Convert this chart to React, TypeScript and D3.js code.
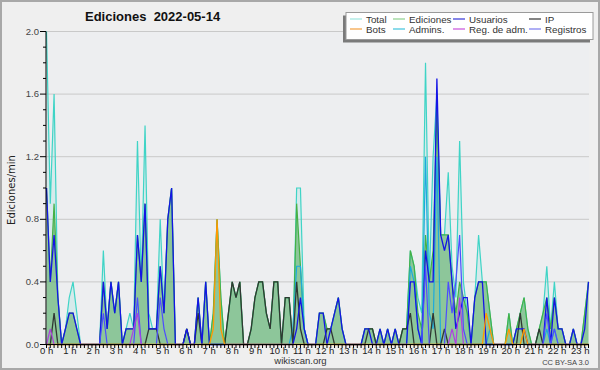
import React from "react";
import * as d3 from "d3";

const HOUR_LABELS = [
  "0 h", "1 h", "2 h", "3 h", "4 h", "5 h", "6 h", "7 h", "8 h", "9 h", "10 h", "11 h",
  "12 h", "13 h", "14 h", "15 h", "16 h", "17 h", "18 h", "19 h", "20 h", "21 h", "22 h", "23 h",
];
const Y_TICKS = [0, 0.4, 0.8, 1.2, 1.6, 2.0];
const Y_TICK_LABELS = ["0.0", "0.4", "0.8", "1.2", "1.6", "2.0"];

// one value per 10 minutes, 6 per hour
const TOTAL = [
  2.0, 0.9, 1.6, 0.3, 0, 0.1,
  0.3, 0.4, 0.2, 0, 0, 0,
  0, 0, 0, 0.6, 0.1, 0.4,
  0.2, 0.4, 0, 0.1, 0.2, 0.1,
  1.3, 0.4, 1.4, 0.2, 0.1, 0.1,
  0.8, 0.2, 0.8, 1.0, 0, 0,
  0, 0.1, 0, 0, 0.3, 0,
  0.4, 0, 0.2, 0.8, 0.3, 0,
  0.2, 0.4, 0.3, 0.4, 0, 0,
  0.1, 0.3, 0.4, 0.4, 0.2, 0.1,
  0.4, 0.4, 0, 0.3, 0.3, 0,
  1.0, 1.0, 0.1, 0, 0, 0,
  0.2, 0.2, 0.1, 0.1, 0.2, 0.3,
  0.1, 0, 0, 0, 0, 0,
  0.1, 0.1, 0.1, 0, 0.1, 0,
  0.1, 0, 0.1, 0, 0.1, 0.1,
  0.6, 0.5, 0.3, 0.2, 1.8, 0.4,
  1.2, 1.6, 0.7, 0.7, 1.1, 0.5,
  0.3, 1.3, 0.4, 0.2, 0, 0.3,
  0.7, 0.4, 0.4, 0.2, 0, 0,
  0, 0, 0.2, 0, 0.1, 0.2,
  0.3, 0.1, 0, 0, 0.1, 0.2,
  0.5, 0.1, 0.4, 0.1, 0.1, 0,
  0, 0.1, 0, 0, 0.2, 0.4,
];

const EDICIONES = [
  1.0, 0.4, 0.9, 0.3, 0, 0.1,
  0.2, 0.2, 0.1, 0, 0, 0,
  0, 0, 0, 0.4, 0.1, 0.4,
  0.2, 0.4, 0, 0.1, 0.1, 0.1,
  0.7, 0.4, 0.9, 0.1, 0.1, 0.1,
  0.5, 0.2, 0.8, 1.0, 0, 0,
  0, 0.1, 0, 0, 0.3, 0,
  0.4, 0, 0.2, 0.8, 0.3, 0,
  0.2, 0.4, 0.3, 0.4, 0, 0,
  0.1, 0.3, 0.4, 0.4, 0.2, 0.1,
  0.4, 0.4, 0, 0.3, 0.3, 0,
  0.9, 0.5, 0.1, 0, 0, 0,
  0.2, 0.2, 0.1, 0.1, 0.2, 0.3,
  0.1, 0, 0, 0, 0, 0,
  0.1, 0.1, 0.1, 0, 0.1, 0,
  0.1, 0, 0.1, 0, 0.1, 0.1,
  0.6, 0.5, 0.2, 0.1, 0.7, 0.4,
  0.6, 1.5, 0.7, 0.7, 0.7, 0.4,
  0.2, 0.4, 0.3, 0.2, 0, 0.3,
  0.4, 0.4, 0.4, 0.2, 0, 0,
  0, 0, 0.2, 0, 0.1, 0.2,
  0.3, 0.1, 0, 0, 0.1, 0.2,
  0.3, 0.1, 0.3, 0.1, 0.1, 0,
  0, 0.1, 0, 0, 0.2, 0.4,
];

const USUARIOS = [
  1.0, 0.4, 0.7, 0.3, 0, 0.1,
  0.2, 0.2, 0.1, 0, 0, 0,
  0, 0, 0, 0.4, 0.1, 0.4,
  0.2, 0.4, 0, 0.1, 0.1, 0.1,
  0.7, 0.4, 0.9, 0.1, 0.1, 0.1,
  0.5, 0.2, 0.8, 1.0, 0, 0,
  0, 0.1, 0, 0, 0.3, 0,
  0.4, 0, 0, 0, 0, 0,
  0, 0, 0, 0, 0, 0,
  0, 0, 0, 0, 0, 0,
  0, 0, 0, 0, 0, 0,
  0.1, 0.3, 0.1, 0, 0, 0,
  0.2, 0.2, 0, 0.1, 0.2, 0.3,
  0.1, 0, 0, 0, 0, 0,
  0.1, 0.1, 0, 0, 0.1, 0,
  0.1, 0, 0.1, 0, 0, 0,
  0.4, 0.4, 0.1, 0, 0.6, 0.4,
  0.4, 1.7, 0.7, 0.6, 0.7, 0.4,
  0.1, 0.2, 0.3, 0.3, 0, 0.3,
  0.4, 0.4, 0, 0, 0, 0,
  0, 0, 0, 0, 0.1, 0.1,
  0.1, 0, 0, 0, 0, 0,
  0.3, 0, 0.3, 0.1, 0.1, 0,
  0, 0.1, 0, 0, 0.1, 0.4,
];

const IP = [
  0, 0, 0.2, 0, 0, 0,
  0, 0, 0, 0, 0, 0,
  0, 0, 0, 0, 0, 0,
  0, 0, 0, 0, 0, 0,
  0, 0, 0, 0.1, 0.1, 0.1,
  0, 0, 0, 0, 0, 0,
  0, 0.1, 0, 0, 0.2, 0,
  0, 0, 0, 0, 0, 0,
  0.2, 0.4, 0.3, 0.4, 0, 0,
  0.1, 0.3, 0.4, 0.4, 0.2, 0.1,
  0.4, 0.4, 0, 0.3, 0.3, 0,
  0.4, 0.1, 0, 0, 0, 0,
  0, 0, 0.1, 0.1, 0, 0,
  0, 0, 0, 0, 0, 0,
  0, 0.1, 0.1, 0, 0, 0,
  0, 0, 0, 0, 0.1, 0.1,
  0.2, 0, 0, 0, 0, 0,
  0.2, 0, 0, 0.1, 0, 0,
  0, 0, 0, 0, 0, 0,
  0, 0, 0, 0, 0, 0,
  0, 0, 0, 0, 0, 0.2,
  0, 0, 0, 0, 0.1, 0,
  0, 0, 0, 0, 0, 0,
  0, 0, 0, 0, 0, 0,
];

const BOTS = [
  0, 0, 0, 0, 0, 0,
  0, 0, 0, 0, 0, 0,
  0, 0, 0, 0, 0, 0,
  0, 0, 0, 0, 0, 0,
  0, 0, 0, 0, 0, 0,
  0, 0, 0, 0, 0, 0,
  0, 0, 0, 0, 0, 0,
  0, 0, 0.1, 0.8, 0.1, 0,
  0, 0, 0, 0, 0, 0,
  0, 0, 0, 0, 0, 0,
  0, 0, 0, 0, 0, 0,
  0, 0, 0, 0, 0, 0,
  0, 0, 0, 0, 0, 0,
  0, 0, 0, 0, 0, 0,
  0, 0, 0, 0, 0, 0,
  0, 0, 0, 0, 0, 0,
  0, 0, 0, 0, 0, 0,
  0, 0, 0, 0, 0, 0,
  0, 0, 0, 0, 0, 0,
  0, 0, 0.2, 0.1, 0, 0,
  0, 0, 0.1, 0, 0, 0,
  0.1, 0, 0, 0, 0, 0,
  0, 0, 0, 0, 0, 0,
  0, 0, 0, 0, 0, 0,
];

const ADMINS = [
  0, 0, 0, 0, 0, 0,
  0, 0, 0, 0, 0, 0,
  0, 0, 0, 0, 0, 0,
  0, 0, 0, 0, 0, 0,
  0, 0, 0, 0, 0, 0,
  0, 0, 0, 0, 0, 0,
  0, 0, 0, 0, 0, 0,
  0, 0, 0, 0, 0, 0,
  0, 0, 0, 0, 0, 0,
  0, 0, 0, 0, 0, 0,
  0, 0, 0, 0, 0, 0.1,
  0.5, 0.5, 0.1, 0, 0, 0,
  0, 0, 0, 0, 0, 0,
  0, 0, 0, 0, 0, 0,
  0, 0, 0, 0, 0, 0,
  0, 0, 0, 0, 0, 0,
  0.5, 0.4, 0.1, 0, 1.2, 0.2,
  0.1, 1.2, 0, 0, 0, 0,
  0, 0, 0, 0, 0, 0,
  0, 0, 0, 0.1, 0, 0,
  0, 0, 0, 0, 0, 0,
  0, 0, 0, 0, 0, 0,
  0.1, 0, 0.1, 0, 0, 0,
  0, 0, 0, 0, 0, 0,
];

const REG_ADM = [
  0, 0.1, 0, 0, 0, 0,
  0, 0, 0, 0, 0, 0,
  0, 0, 0, 0, 0, 0,
  0, 0, 0, 0, 0, 0.1,
  0.2, 0, 0, 0, 0, 0,
  0, 0, 0, 0, 0, 0,
  0, 0, 0, 0, 0, 0,
  0, 0, 0, 0, 0, 0,
  0, 0, 0, 0, 0, 0,
  0, 0, 0, 0, 0, 0,
  0, 0, 0, 0, 0, 0,
  0, 0, 0, 0, 0, 0,
  0, 0, 0, 0, 0, 0,
  0, 0, 0, 0, 0, 0,
  0, 0, 0, 0, 0, 0,
  0, 0, 0, 0, 0, 0,
  0, 0, 0, 0, 0, 0,
  0, 0, 0, 0, 0, 0.1,
  0, 0.3, 0, 0, 0, 0,
  0, 0, 0, 0, 0, 0,
  0, 0, 0, 0, 0, 0,
  0, 0, 0, 0, 0, 0,
  0, 0, 0, 0, 0, 0,
  0, 0, 0, 0, 0, 0,
];

const REGISTROS = [
  0, 0, 0, 0, 0, 0,
  0, 0, 0, 0, 0, 0,
  0, 0, 0, 0.2, 0, 0,
  0, 0, 0, 0, 0, 0,
  0.3, 0, 0, 0, 0, 0,
  0.3, 0.1, 0, 0, 0, 0,
  0, 0, 0, 0, 0, 0,
  0, 0, 0, 0, 0, 0,
  0, 0, 0, 0, 0, 0,
  0, 0, 0, 0, 0, 0,
  0, 0, 0, 0, 0, 0,
  0, 0, 0, 0, 0, 0,
  0, 0, 0, 0, 0, 0,
  0, 0, 0, 0, 0, 0,
  0, 0, 0, 0, 0, 0,
  0, 0, 0, 0, 0, 0,
  0, 0, 0, 0, 0.5, 0,
  0, 0, 0, 0, 0.4, 0.2,
  0.4, 0.7, 0.1, 0, 0, 0,
  0, 0, 0, 0, 0, 0,
  0, 0, 0, 0, 0, 0,
  0, 0, 0, 0, 0, 0,
  0.2, 0, 0.1, 0, 0, 0,
  0, 0, 0, 0, 0, 0,
];

const LEGEND_NAMES = ["Total", "Ediciones", "Usuarios", "IP", "Bots", "Admins.", "Reg. de adm.", "Registros"];
const LEGEND_COLORS = ["#9fe6e0", "#8ed08e", "#3434d8", "#333333", "#f4a040", "#40c4dc", "#c850dc", "#7a7aee"];

const W = 600;
const H = 370;
const FONT = "'Liberation Sans', Arial, sans-serif";

export default function App() {
  const x = d3.scaleLinear().domain([0, 143]).range([46.5, 588.5]);
  const y = d3.scaleLinear().domain([0, 2]).range([344.5, 31.5]);
  const xl = d3.scaleLinear().domain([0, 24]).range([46.7, 603.5]);

  const line = (arr: number[]) =>
    d3.line<number>().x((_, i) => x(i)).y((d) => y(d))(arr) || "";
  const area = (arr: number[]) =>
    d3.area<number>().x((_, i) => x(i)).y0(y(0)).y1((d) => y(d))(arr) || "";

  const minorY = d3.range(0, 21).map((k) => k / 10);
  const xTicks = d3.range(0, 144);

  const lines: { data: number[]; color: string; w: number }[] = [
    { data: TOTAL, color: "#3fd4c6", w: 1.2 },
    { data: EDICIONES, color: "#45b045", w: 1.2 },
    { data: ADMINS, color: "#1eaadc", w: 1.2 },
    { data: IP, color: "#303833", w: 1.3 },
    { data: USUARIOS, color: "#1414e6", w: 1.3 },
    { data: REGISTROS, color: "#4d4dff", w: 1.2 },
    { data: BOTS, color: "#ff9900", w: 1.3 },
    { data: REG_ADM, color: "#b040e0", w: 1.2 },
  ];

  const legendCols = [350, 393, 453, 529];
  const legendRows = [19, 29];

  return (
    <svg
      width={W}
      height={H}
      style={{ position: "absolute", left: 0, top: 0, display: "block" }}
    >
      <rect x={1} y={1} width={W - 2} height={H - 2} fill="#efefef" stroke="#a8a8a8" strokeWidth={2} />
      <rect x={46} y={31.5} width={543} height={313} fill="#edeef0" />

      {Y_TICKS.filter((t) => t > 0).map((t) => (
        <line key={"g" + t} x1={46} x2={589} y1={y(t)} y2={y(t)} stroke="#c9c9c9" strokeWidth={1} />
      ))}

      <path d={area(TOTAL)} fill="rgba(64,212,200,0.13)" />
      <path d={area(EDICIONES)} fill="rgba(82,168,88,0.55)" />

      {lines.map((s, i) => (
        <path key={"l" + i} d={line(s.data)} fill="none" stroke={s.color} strokeWidth={s.w} strokeLinejoin="miter" />
      ))}

      {/* axes */}
      <line x1={46} x2={46} y1={31.5} y2={345} stroke="#000" strokeWidth={1} />
      <line x1={46} x2={589} y1={344.5} y2={344.5} stroke="#000" strokeWidth={1.2} />
      {minorY.map((t) => (
        <line key={"my" + t} x1={Math.round(t * 10) % 4 === 0 ? 40 : 43} x2={46} y1={y(t)} y2={y(t)} stroke="#000" strokeWidth={1} />
      ))}
      {Y_TICKS.map((t, i) => (
        <text key={"yl" + t} x={39} y={y(t) + 3} fontSize={9.5} fontFamily={FONT} fill="#444" textAnchor="end">
          {Y_TICK_LABELS[i]}
        </text>
      ))}
      {xTicks.map((t) => (
        <line key={"xt" + t} x1={x(t)} x2={x(t)} y1={344.5} y2={348} stroke="#000" strokeWidth={1} />
      ))}
      {HOUR_LABELS.map((lab, h) => (
        <text key={"xl" + h} x={xl(h)} y={354} fontSize={9.5} fontFamily={FONT} fill="#222" textAnchor="middle">
          {lab}
        </text>
      ))}

      <text
        transform="translate(15,190) rotate(-90)"
        fontSize={10}
        fontFamily="'DejaVu Sans', sans-serif"
        fill="#222"
        textAnchor="middle"
      >
        Ediciones/min
      </text>

      <text x={85} y={21} fontSize={13} fontWeight="bold" fontFamily={FONT} fill="#111" style={{ whiteSpace: "pre" }}>
        {"Ediciones  2022-05-14"}
      </text>

      {/* legend */}
      <rect x={343} y={15.5} width={247} height={27} fill="#7a7a7a" />
      <rect x={346} y={12.5} width={247} height={27} fill="#ffffff" stroke="#9a9a9a" strokeWidth={1} />
      {LEGEND_NAMES.map((name, i) => {
        const col = i % 4;
        const row = Math.floor(i / 4);
        const lx = legendCols[col];
        const ly = legendRows[row];
        return (
          <g key={"lg" + i}>
            <line x1={lx} x2={lx + 12} y1={ly} y2={ly} stroke={LEGEND_COLORS[i]} strokeWidth={1.2} />
            <text x={lx + 16} y={ly + 3.5} fontSize={9.8} fontFamily={FONT} fill="#333">
              {name}
            </text>
          </g>
        );
      })}

      <text x={300.5} y={364} fontSize={9.5} fontFamily={FONT} fill="#333" textAnchor="middle">
        wikiscan.org
      </text>
      <text x={589} y={364.5} fontSize={7.5} fontFamily={FONT} fill="#444" textAnchor="end">
        CC BY-SA 3.0
      </text>
    </svg>
  );
}
